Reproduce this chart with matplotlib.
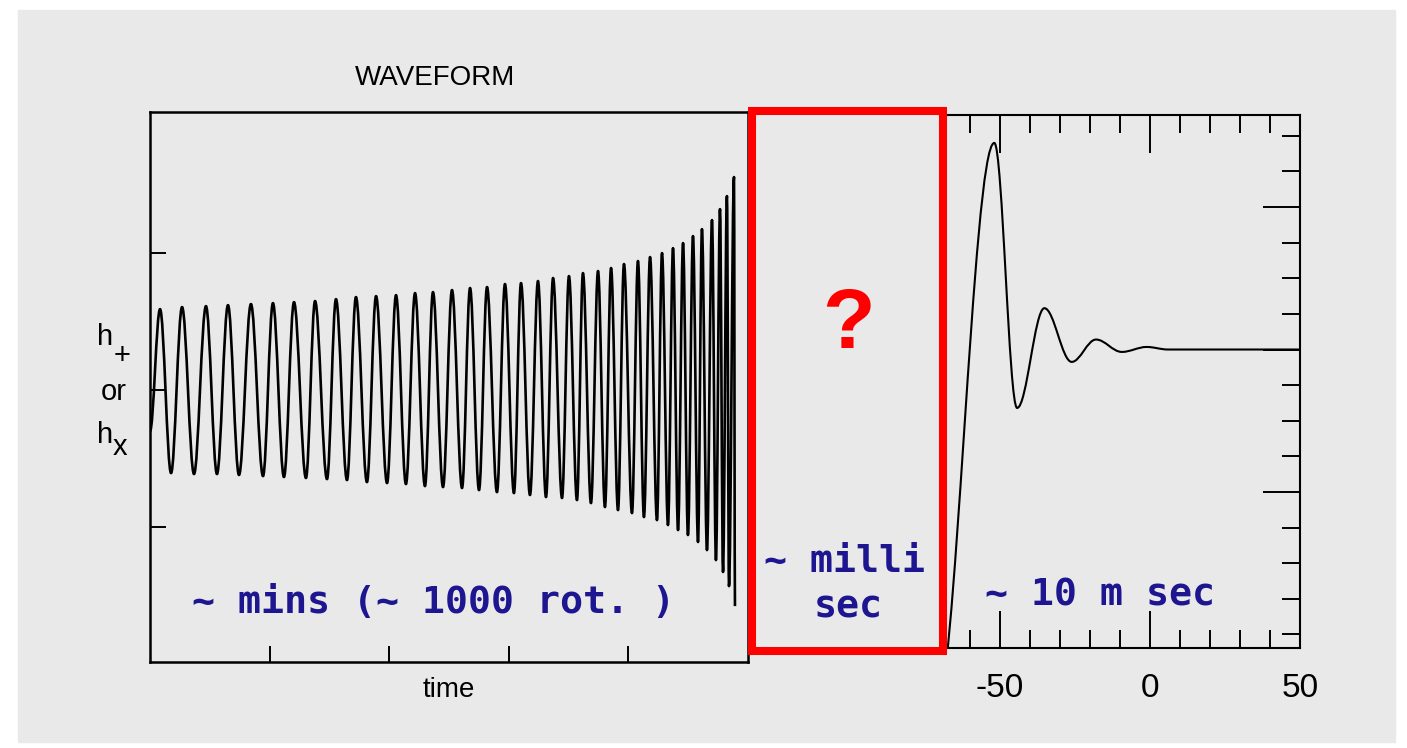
import matplotlib
matplotlib.use("Agg")
import matplotlib.pyplot as plt
from matplotlib.path import Path
from matplotlib.patches import PathPatch, Rectangle

plt.rcParams['font.family'] = ['Liberation Sans', 'DejaVu Sans']
plt.rcParams['axes.unicode_minus'] = False

# inspiral panel: maxima / minima (time in fifths of the panel)
peak_t = [0.084, 0.268, 0.468, 0.652, 0.844, 1.028, 1.204, 1.380, 1.555, 1.722,
          1.890, 2.057, 2.216, 2.366, 2.525, 2.676, 2.818, 2.968, 3.102, 3.244,
          3.370, 3.503, 3.620, 3.746, 3.855, 3.963, 4.080, 4.181, 4.281, 4.373,
          4.457, 4.540, 4.615, 4.699, 4.766, 4.824, 4.883]
peak_h = [0.591, 0.606, 0.613, 0.620, 0.628, 0.635, 0.642, 0.650, 0.664, 0.679,
          0.686, 0.693, 0.708, 0.715, 0.730, 0.745, 0.752, 0.774, 0.781, 0.796,
          0.818, 0.832, 0.854, 0.869, 0.891, 0.920, 0.942, 0.971, 1.000, 1.036,
          1.073, 1.124, 1.175, 1.241, 1.321, 1.416, 1.555]
trough_t = [0.176, 0.368, 0.560, 0.744, 0.945, 1.120, 1.304, 1.480, 1.647, 1.814,
            1.982, 2.140, 2.299, 2.450, 2.609, 2.751, 2.901, 3.043, 3.177, 3.311,
            3.445, 3.570, 3.687, 3.804, 3.913, 4.030, 4.130, 4.239, 4.331, 4.415,
            4.498, 4.582, 4.657, 4.732, 4.791, 4.841, 4.891]
trough_h = [-0.606, -0.613, -0.613, -0.620, -0.628, -0.635, -0.642, -0.650, -0.657, -0.672,
            -0.679, -0.686, -0.701, -0.708, -0.715, -0.730, -0.745, -0.752, -0.766, -0.781,
            -0.788, -0.803, -0.825, -0.854, -0.876, -0.898, -0.927, -0.949, -0.985, -1.022,
            -1.058, -1.109, -1.168, -1.241, -1.328, -1.431, -1.577]
start_t, start_h = 0.0, -0.30

# ringdown panel: turning points in msec (first one lies just outside the frame)
ring_t = [-72.0, -51.9, -44.3, -35.2, -26.1, -18.0, -9.4, -1.1, 6.0, 50.0]
ring_h = [-2.6, 1.45, -0.41, 0.29, -0.087, 0.07, -0.017, 0.018, 0.0, 0.0]

W, H = 1407, 748
ink = '#1e1690'


def wave_path(ts, hs, k=0.36):
    # cubic segments with flat tangents at each turning point (sine-like arcs)
    verts = [(ts[0], hs[0])]
    codes = [Path.MOVETO]
    for t0, h0, t1, h1 in zip(ts[:-1], hs[:-1], ts[1:], hs[1:]):
        dt = t1 - t0
        verts += [(t0 + k * dt, h0), (t1 - k * dt, h1), (t1, h1)]
        codes += [Path.CURVE4] * 3
    return Path(verts, codes)


def fx(px):
    return px / W


def fy(py):
    return 1 - py / H


fig = plt.figure(figsize=(W / 100, H / 100), dpi=100)
fig.patches.append(Rectangle((fx(18), fy(742)), fx(1395) - fx(18), fy(10) - fy(742),
                             transform=fig.transFigure, color='#e9e9e9', zorder=-10))

# ---- left panel: inspiral
ax1 = fig.add_axes([fx(150), fy(662), fx(748) - fx(150), fy(112) - fy(662)])
ax1.set_facecolor('none')
ext = sorted(zip(peak_t + trough_t, peak_h + trough_h))
ts = [start_t] + [e[0] for e in ext]
hs = [start_h] + [e[1] for e in ext]
ax1.add_patch(PathPatch(wave_path(ts, hs), fill=False, lw=1.9, edgecolor='black',
                        joinstyle='round'))
ax1.set_xlim(0, 5)
ax1.set_ylim(-1.985, 2.03)
ax1.set_xticks([1, 2, 3, 4])
ax1.set_yticks([-1, 0, 1])
ax1.tick_params(direction='in', length=11.5, width=1.4, labelbottom=False, labelleft=False)
for s in ax1.spines.values():
    s.set_linewidth(1.8)
ax1.set_xlabel('time', fontsize=20, labelpad=11)

# ---- right panel: ringdown
ax2 = fig.add_axes([fx(940), fy(648), fx(1300) - fx(940), fy(115) - fy(648)])
ax2.set_facecolor('none')
ax2.add_patch(PathPatch(wave_path(ring_t, ring_h), fill=False, lw=1.5, edgecolor='black'))
ax2.set_xlim(-70, 50)
ax2.set_ylim(-2.095, 1.646)
ax2.set_xticks([-50, 0, 50])
ax2.set_xticks([-60, -40, -30, -20, -10, 10, 20, 30, 40], minor=True)
ax2.set_yticks([-1, 0, 1])
ax2.set_yticks([-2, -1.75, -1.5, -1.25, -0.75, -0.5, -0.25, 0.25, 0.5, 0.75, 1.25, 1.5], minor=True)
ax2.tick_params(which='both', direction='in', top=True, bottom=True, left=False, right=True,
                labelleft=False, width=1.4)
ax2.tick_params(which='major', length=27, labelsize=24, pad=18)
ax2.tick_params(which='minor', length=13)
ax2.spines['left'].set_visible(False)
for s in ax2.spines.values():
    s.set_linewidth(1.5)

# ---- texts
fig.text(fx(435), fy(78), 'WAVEFORM', fontsize=20, ha='center', va='center')
fig.text(fx(105), fy(345), 'h', fontsize=21, ha='center', va='baseline')
fig.text(fx(122), fy(364), '+', fontsize=21, ha='center', va='baseline')
fig.text(fx(114), fy(400), 'or', fontsize=21, ha='center', va='baseline')
fig.text(fx(105), fy(443), 'h', fontsize=21, ha='center', va='baseline')
fig.text(fx(120), fy(455), 'x', fontsize=21, ha='center', va='baseline')

mono = dict(family='DejaVu Sans Mono', fontweight='bold', fontsize=27.5, color=ink,
            ha='center', va='baseline')
fig.text(fx(434), fy(613), '~ mins (~ 1000 rot. )', **mono)
fig.text(fx(845), fy(572), '~ milli', **mono)
fig.text(fx(848), fy(617), 'sec', **mono)
fig.text(fx(1100), fy(605), '~ 10 m sec', **mono)

fig.text(fx(848), fy(348), '?', fontsize=62, fontweight='bold', color='#ff0000',
         ha='center', va='baseline')
fig.patches.append(Rectangle((fx(752), fy(651)), fx(943) - fx(752), fy(111) - fy(651),
                             transform=fig.transFigure, fill=False, edgecolor='#ff0000',
                             lw=5.8, zorder=5))

fig.savefig('out.png', dpi=100)
